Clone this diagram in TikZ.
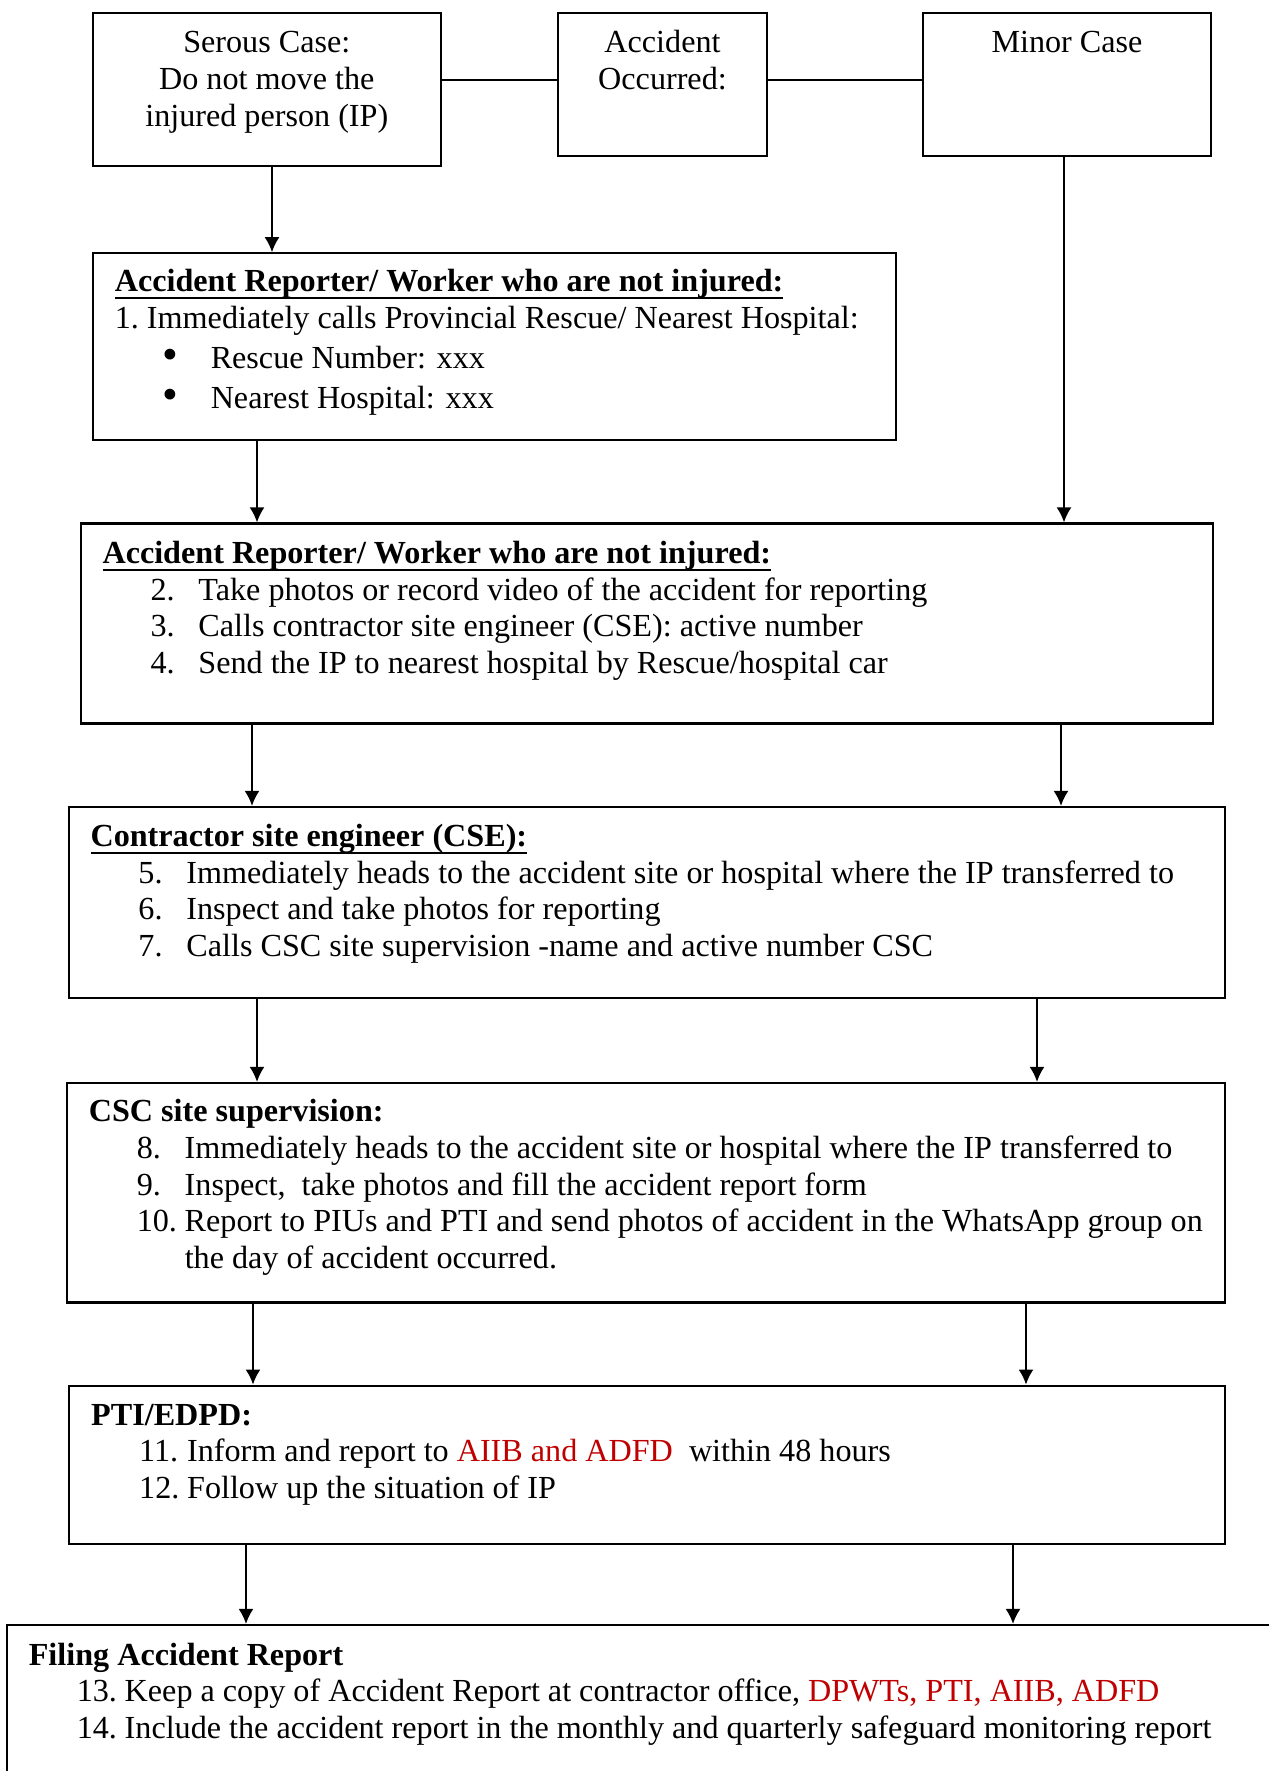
\documentclass[tikz,border=0pt]{standalone}
\usepackage{fontspec}
\setmainfont{Liberation Serif}
\usepackage{tikz}
\usetikzlibrary{arrows.meta,positioning,fit}
\definecolor{wordred}{RGB}{192,0,0}
\newcommand{\stepnum}[2]{\hspace*{17.9pt}\makebox[17.9pt][l]{#1}#2}
\newcommand{\boxhead}[1]{\sbox0{\textbf{#1}}\rlap{\rule[-3pt]{\wd0}{1pt}}\usebox0}
\newcommand{\bigdot}{\raisebox{-0.5pt}{\scalebox{1.4}{\textbullet}}}

\tikzset{
  frame/.style={draw, line width=0.8pt, inner sep=0pt},
  boxtext/.style={anchor=base west, align=left, inner sep=0pt, font=\fontsize{12}{13.7}\selectfont},
  casetext/.style={anchor=base, align=center, inner sep=0pt, font=\fontsize{12}{13.7}\selectfont},
  flow/.style={line width=0.8pt, -{Latex[length=5.6pt,width=5.6pt]}},
}

\begin{document}
\begin{tikzpicture}[x=0.3732pt, y=-0.3732pt]
\useasboundingbox (0,0) rectangle (1269,1771);

% boxes
\node[frame, fit={(92.7,12.7) (441,165.7)}] (serous) {};
\node[frame, fit={(558,12.7) (767,156)}] (occurred) {};
\node[frame, fit={(923,12.7) (1211,156)}] (minor) {};
\node[frame, fit={(92.7,253.3) (896,440)}] (reporterA) {};
\node[frame, fit={(81,523.5) (1213,723.5)}] (reporterB) {};
\node[frame, fit={(69,807) (1225,997.6)}] (cse) {};
\node[frame, fit={(66.7,1083) (1225,1302.5)}] (csc) {};
\node[frame, fit={(69.3,1385.7) (1225,1544)}] (pti) {};
\node[frame, fit={(7.3,1625) (1300,1800)}] (filing) {};

% texts (placed at the baseline of their last line)
\node[casetext] (serous-t) at (266.8,126) {Serous Case:\\Do not move the\\injured person (IP)};
\node[casetext] (occurred-t) at (662.5,89) {Accident\\Occurred:};
\node[casetext] (minor-t) at (1067,52) {Minor Case};

\node[boxtext] (reporterA-t) at (114.3,408.5) {%
  \boxhead{Accident Reporter/ Worker who are not injured:}\\
  1.\ Immediately calls Provincial Rescue/ Nearest Hospital:\\[1.3pt]
  \stepnum{\bigdot}{Rescue Number: xxx}\\[1.3pt]
  \stepnum{\bigdot}{Nearest Hospital: xxx}};

\node[boxtext] (reporterB-t) at (102,673.5) {%
  \boxhead{Accident Reporter/ Worker who are not injured:}\\
  \stepnum{2.}{Take photos or record video of the accident for reporting}\\
  \stepnum{3.}{Calls contractor site engineer (CSE): active number}\\
  \stepnum{4.}{Send the IP to nearest hospital by Rescue/hospital car}};

\node[boxtext] (cse-t) at (90,956.5) {%
  \boxhead{Contractor site engineer (CSE):}\\
  \stepnum{5.}{Immediately heads to the accident site or hospital where the IP transferred to}\\
  \stepnum{6.}{Inspect and take photos for reporting}\\
  \stepnum{7.}{Calls CSC site supervision -name and active number CSC}};

\node[boxtext] (csc-t) at (88.3,1268.5) {%
  \textbf{CSC site supervision:}\\
  \stepnum{8.}{Immediately heads to the accident site or hospital where the IP transferred to}\\
  \stepnum{9.}{Inspect,\ \ take photos and fill the accident report form}\\
  \stepnum{10.}{Report to PIUs and PTI and send photos of accident in the WhatsApp group on}\\
  \hspace*{35.8pt}the day of accident occurred.};

\node[boxtext] (pti-t) at (90.7,1498.4) {%
  \textbf{PTI/EDPD:}\\
  \stepnum{11.}{Inform and report to \textcolor{wordred}{AIIB and ADFD}\ \ within 48 hours}\\
  \stepnum{12.}{Follow up the situation of IP}};

\node[boxtext] (filing-t) at (28.3,1738.4) {%
  \textbf{Filing Accident Report}\\
  \stepnum{13.}{Keep a copy of Accident Report at contractor office, \textcolor{wordred}{DPWTs, PTI, AIIB, ADFD}}\\
  \stepnum{14.}{Include the accident report in the monthly and quarterly safeguard monitoring report}};

% connectors
\draw[line width=0.8pt] (serous.east |- 0,80) -- (occurred.west |- 0,80);
\draw[line width=0.8pt] (occurred.east |- 0,80) -- (minor.west |- 0,80);
\draw[flow] (272,0 |- serous.south) -- (272,0 |- reporterA.north);
\draw[flow] (257,0 |- reporterA.south) -- (257,0 |- reporterB.north);
\draw[flow] (1064,0 |- minor.south) -- (1064,0 |- reporterB.north);
\foreach \upper/\lower/\xl/\xr in {reporterB/cse/252/1061, cse/csc/257/1037, csc/pti/253/1026, pti/filing/246/1013}
{
  \draw[flow] (\xl,0 |- \upper.south) -- (\xl,0 |- \lower.north);
  \draw[flow] (\xr,0 |- \upper.south) -- (\xr,0 |- \lower.north);
}
\end{tikzpicture}
\end{document}
